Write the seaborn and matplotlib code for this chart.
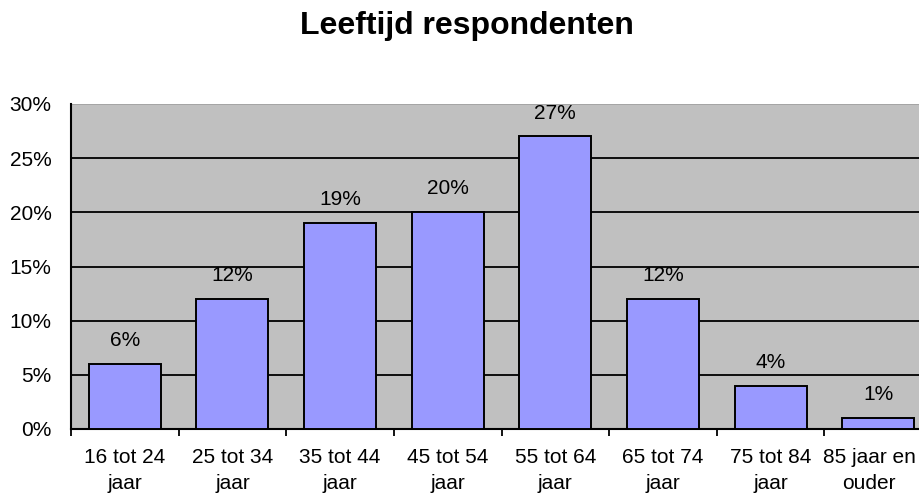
import numpy as np
import pandas as pd
import matplotlib
matplotlib.use('Agg')
import matplotlib.pyplot as plt
import matplotlib.transforms as mtransforms
import seaborn as sns
from matplotlib.ticker import FuncFormatter, FixedLocator

# Data
categories = ['16 tot 24\njaar', '25 tot 34\njaar', '35 tot 44\njaar', '45 tot 54\njaar',
              '55 tot 64\njaar', '65 tot 74\njaar', '75 tot 84\njaar', '85 jaar en\nouder']
percentages = [6, 12, 19, 20, 27, 12, 4, 1]

df = pd.DataFrame({'leeftijd': categories, 'pct': percentages})

sns.set_style('white')
plt.rcParams['font.family'] = ['Liberation Sans', 'DejaVu Sans']
plt.rcParams['text.color'] = 'black'
plt.rcParams['xtick.color'] = 'black'
plt.rcParams['ytick.color'] = 'black'

fig = plt.figure(figsize=(9.19, 5.04), dpi=100)
ax = fig.add_axes([71 / 919, 75 / 504, 861 / 919, 325 / 504])
ax.set_facecolor('#C0C0C0')

sns.barplot(data=df, x='leeftijd', y='pct', color='#9999FF', saturation=1,
            edgecolor='black', linewidth=1.4, width=0.67, ax=ax, zorder=3)

ax.set_xlim(-0.5, len(categories) - 0.5)
ax.set_ylim(0, 30)
ax.set_yticks(np.arange(0, 31, 5))
ax.yaxis.set_major_formatter(FuncFormatter(lambda v, p: f'{v:.0f}%'))
for y in range(5, 30, 5):
    ax.axhline(y, color='black', linewidth=1.3, zorder=1)
ax.axhline(30, color='#A0A0A0', linewidth=1.2, zorder=1)

# value labels
for i, v in enumerate(percentages):
    ax.text(i, v + 1.65, f'{v}%', ha='center', va='baseline', fontsize=15, zorder=4)

# category ticks at boundaries, labels at centers
ax.set_xticks(range(len(categories)))
ax.set_xticklabels(categories, fontsize=15, linespacing=1.45)
ax.tick_params(axis='x', which='major', length=0, pad=14)
ax.xaxis.set_minor_locator(FixedLocator(np.arange(-0.5, len(categories), 1)))
ax.tick_params(axis='x', which='minor', length=5, width=1.3, color='black', direction='out')
ax.tick_params(axis='y', length=6, width=1.3, color='black', direction='out', labelsize=15, pad=8)
ax.tick_params(axis='x', bottom=True, which='both')

# last label is pushed left so it fits inside the figure, like the original
last = ax.get_xticklabels()[-1]
last.set_transform(last.get_transform() +
                   mtransforms.ScaledTranslation(-9 / 100, 0, fig.dpi_scale_trans))

ax.set_xlabel('')
ax.set_ylabel('')
for side in ['top', 'right']:
    ax.spines[side].set_visible(False)
ax.spines['left'].set_color('black')
ax.spines['bottom'].set_color('black')
ax.spines['left'].set_linewidth(1.5)
ax.spines['bottom'].set_linewidth(1.5)

fig.text(467 / 919, 1 - 34 / 504, 'Leeftijd respondenten', ha='center', va='baseline',
         fontsize=23, fontweight='bold')

fig.savefig('out.png', dpi=100)
